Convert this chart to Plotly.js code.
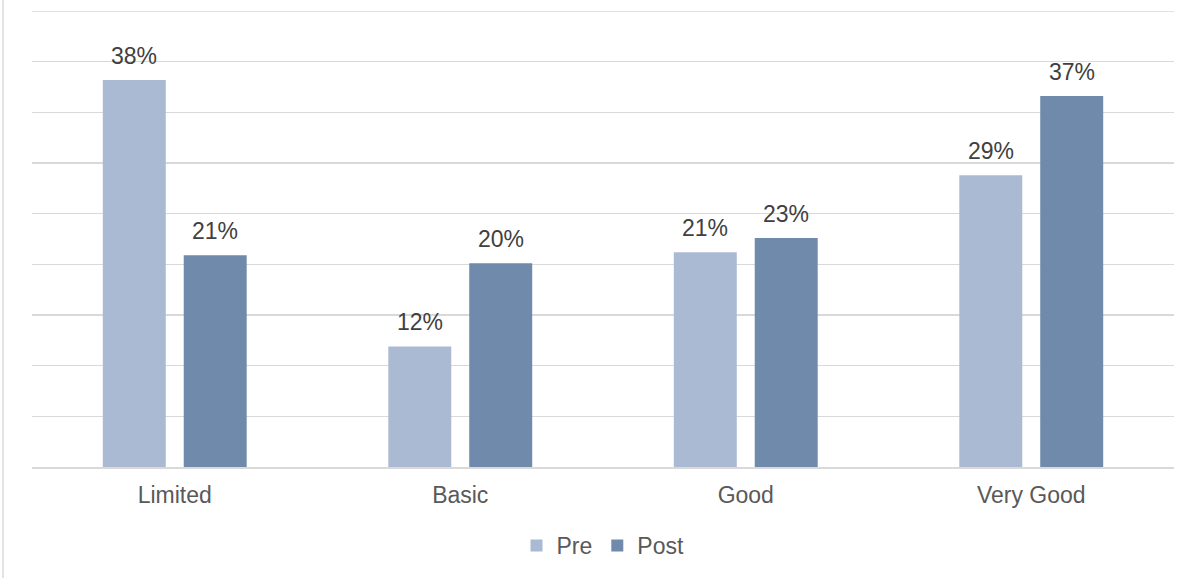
<!DOCTYPE html>
<html>
<head>
<meta charset="utf-8">
<script src="https://cdn.plot.ly/plotly-3.0.1.min.js"></script>
<style>html,body{margin:0;padding:0;background:#fff;}#chart{width:1196px;height:578px;}</style>
</head>
<body>
<div id="chart"></div>
<script>
const categories = ["Limited", "Basic", "Good", "Very Good"];
const seriesNames = ["Pre", "Post"];
const preValues = [38.2, 11.9, 21.2, 28.8];
const postValues = [20.9, 20.1, 22.6, 36.6];
const yTicks = [0, 5, 10, 15, 20, 25, 30, 35, 40, 45];

const colors = ["#ABBAD3", "#6F8AAB"];
const FONT = "Liberation Sans, Arial, sans-serif";

const traces = [preValues, postValues].map((vals, i) => ({
  type: "bar",
  name: seriesNames[i],
  x: categories,
  y: vals,
  marker: {color: colors[i]},
  hoverinfo: "skip"
}));

// value labels as annotations (offset to each bar of the group)
const annotations = [];
[preValues, postValues].forEach((vals, i) => {
  vals.forEach((v, j) => {
    annotations.push({
      x: categories[j], y: v, xref: "x", yref: "y",
      text: Math.round(v) + "%",
      showarrow: false, yanchor: "bottom",
      xshift: i === 0 ? -40.5 : 40.5, yshift: 9,
      font: {family: FONT, size: 23, color: "#404040"}
    });
  });
});

const yMax = yTicks[yTicks.length - 1];

const layout = {
  width: 1196, height: 578,
  margin: {l: 32, r: 22, t: 11, b: 111},
  paper_bgcolor: "#fff", plot_bgcolor: "#fff",
  barmode: "group", bargap: 0.433, bargroupgap: 0.222,
  font: {family: FONT, size: 23, color: "#595959"},
  xaxis: {
    showgrid: false, zeroline: false, showline: true,
    linecolor: "#D9D9D9", linewidth: 1.5,
    ticks: "", ticklabelstandoff: 7,
    tickfont: {family: FONT, size: 23, color: "#595959"},
    fixedrange: true
  },
  yaxis: {
    range: [0, yMax], tickvals: yTicks, showticklabels: false,
    showgrid: true, gridcolor: "#D9D9D9", gridwidth: 1.5,
    zeroline: false, showline: false, ticks: "", fixedrange: true
  },
  showlegend: true,
  legend: {
    orientation: "h", x: 0.5, xanchor: "center", y: -0.172, yanchor: "middle",
    font: {family: FONT, size: 23, color: "#595959"},
    itemwidth: 30, traceorder: "normal"
  },
  annotations: annotations,
  shapes: [{
    type: "line", xref: "paper", yref: "paper",
    x0: -0.0254, x1: -0.0254, y0: -0.3, y1: 1.1,
    line: {color: "#D9D9D9", width: 1.5}
  }, {
    type: "line", xref: "paper", yref: "y", layer: "below",
    x0: 0, x1: 1, y0: yMax, y1: yMax,
    line: {color: "#D9D9D9", width: 1.5}
  }]
};

Plotly.newPlot("chart", traces, layout, {displayModeBar: false, staticPlot: true});
</script>
</body>
</html>
